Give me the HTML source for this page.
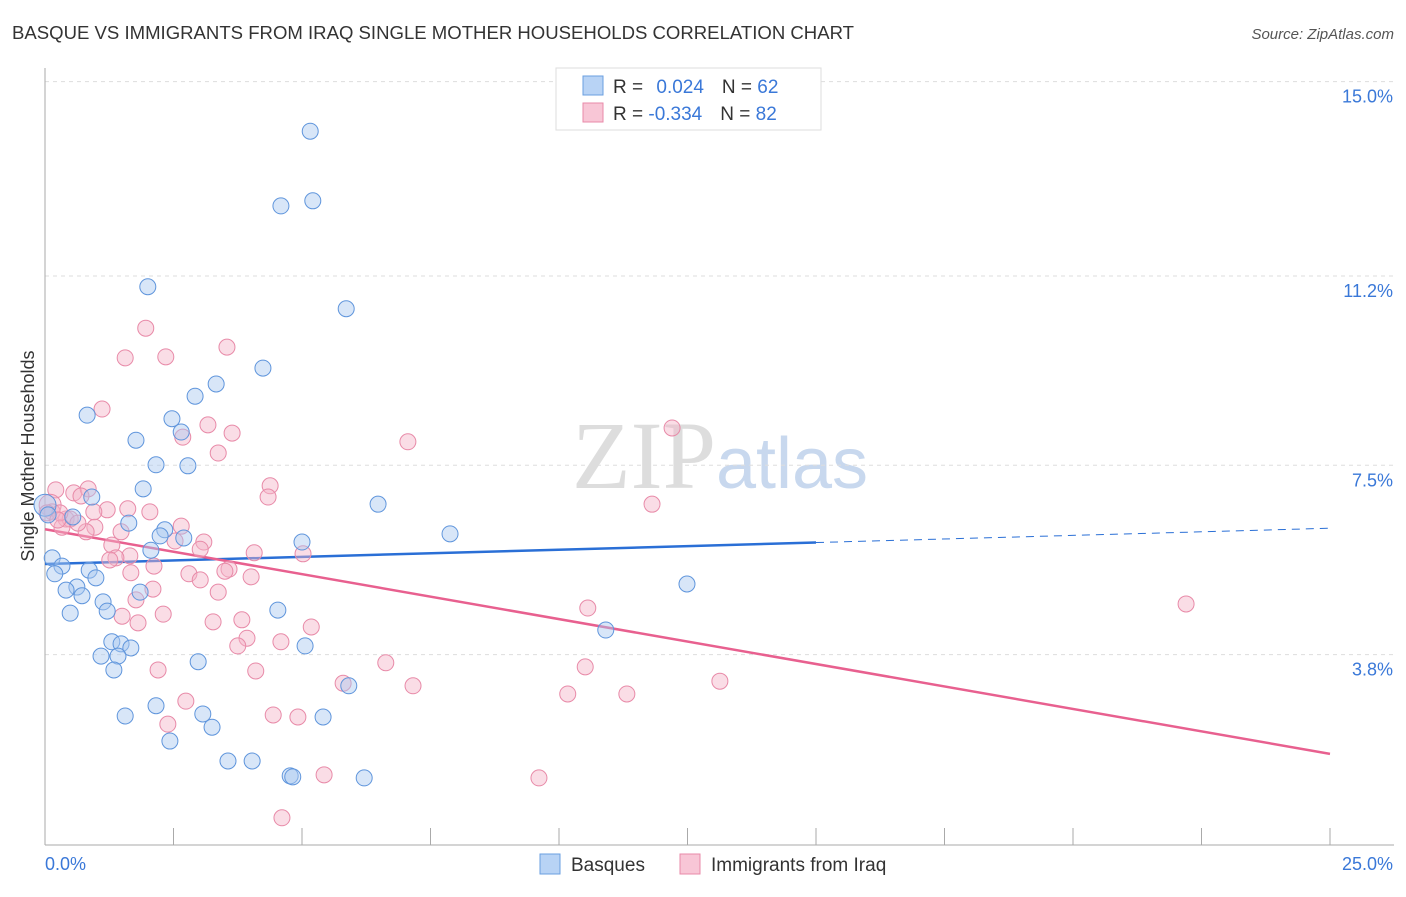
<!DOCTYPE html>
<html><head><meta charset="utf-8"><style>
body{margin:0;background:#fff;font-family:"Liberation Sans",sans-serif;}
</style></head><body>
<svg id="c" width="1406" height="892" xmlns="http://www.w3.org/2000/svg">
<text x="12" y="39" font-size="18" fill="#333" textLength="842" lengthAdjust="spacingAndGlyphs">BASQUE VS IMMIGRANTS FROM IRAQ SINGLE MOTHER HOUSEHOLDS CORRELATION CHART</text>
<text x="1394" y="39" font-size="15" fill="#555" font-style="italic" text-anchor="end">Source: ZipAtlas.com</text>
<text x="720" y="488" font-size="96" fill="#ddd" text-anchor="middle" font-family="Liberation Serif,serif">ZIP<tspan fill="#c8d8ee" font-family="Liberation Sans,sans-serif" font-size="72">atlas</tspan></text>
<text transform="translate(34,456) rotate(-90)" font-size="18" fill="#333" text-anchor="middle">Single Mother Households</text>
<g id="grid"></g><g id="axes"></g><g id="lines"></g><g id="pts"></g>
<g>
<rect x="556" y="68" width="265" height="62" fill="#fff" stroke="#ddd"/>
<rect x="583" y="76" width="20" height="19" fill="#b8d3f5" stroke="#6a9fe0"/>
<rect x="583" y="103" width="20" height="19" fill="#f8c6d6" stroke="#e88aa8"/>
<text x="613" y="93" font-size="19" fill="#333">R = <tspan fill="#3a78d8" dx="8">0.024</tspan><tspan dx="18" fill="#333">N = </tspan><tspan fill="#3a78d8">62</tspan></text>
<text x="613" y="120" font-size="19" fill="#333">R = <tspan fill="#3a78d8">-0.334</tspan><tspan dx="18" fill="#333">N = </tspan><tspan fill="#3a78d8">82</tspan></text>
</g>
<g>
<rect x="540" y="854" width="20" height="20" fill="#b8d3f5" stroke="#6a9fe0"/>
<text x="571" y="871" font-size="19" fill="#333">Basques</text>
<rect x="680" y="854" width="20" height="20" fill="#f8c6d6" stroke="#e88aa8"/>
<text x="711" y="871" font-size="19" fill="#333">Immigrants from Iraq</text>
</g>
</svg>
<script>
const blueX=[5.16,4.59,5.21,2.00,5.86,4.24,3.33,2.92,0.82,2.47,2.65,1.77,2.16,2.78,1.91,0.91,6.48,1.63,2.33,0.54,2.70,2.24,5.00,7.88,2.06,0.14,0.33,0.86,0.19,0.99,12.49,0.62,0.41,0.72,1.13,1.21,0.49,4.53,1.85,10.91,1.30,1.48,1.67,1.09,1.42,2.98,5.06,1.34,5.91,2.16,1.56,3.07,5.41,3.25,2.43,3.56,4.03,4.77,4.82,6.21,0.0,0.06];
const blueY=[14.03,12.57,12.67,10.99,10.56,9.40,9.09,8.85,8.48,8.41,8.15,7.99,7.51,7.49,7.04,6.88,6.74,6.37,6.24,6.49,6.08,6.12,6.00,6.16,5.84,5.69,5.53,5.45,5.38,5.30,5.18,5.12,5.06,4.95,4.83,4.65,4.61,4.67,5.02,4.28,4.05,4.01,3.93,3.77,3.77,3.66,3.97,3.50,3.19,2.80,2.60,2.64,2.58,2.38,2.11,1.72,1.72,1.43,1.41,1.39,6.72,6.53];
const pinkX=[1.96,2.35,1.56,3.54,1.11,3.17,3.64,2.68,7.06,12.20,3.37,4.38,0.21,4.34,0.56,0.84,0.70,11.81,2.04,1.21,1.61,0.95,0.41,0.49,2.65,0.97,1.48,0.33,0.80,3.09,1.30,2.53,1.65,3.02,4.07,5.02,1.38,2.12,3.58,3.50,4.01,2.80,2.10,3.37,1.77,10.56,22.20,2.30,1.50,1.81,3.27,3.83,5.18,3.93,4.59,3.75,6.63,10.51,2.20,4.10,5.80,7.16,13.13,2.74,10.17,11.32,2.39,4.44,4.92,5.43,9.61,4.61,0.10,0.14,0.04,0.29,0.64,0.25,1.26,1.67,3.02];
const pinkY=[10.18,9.62,9.60,9.81,8.60,8.29,8.13,8.05,7.96,8.23,7.74,7.10,7.02,6.88,6.96,7.04,6.90,6.74,6.59,6.63,6.65,6.59,6.45,6.45,6.31,6.29,6.20,6.29,6.20,6.00,5.94,6.02,5.73,5.86,5.79,5.77,5.69,5.53,5.47,5.43,5.32,5.38,5.08,5.02,4.87,4.71,4.79,4.59,4.55,4.42,4.44,4.48,4.34,4.12,4.05,3.97,3.64,3.56,3.50,3.48,3.24,3.19,3.28,2.89,3.03,3.03,2.44,2.62,2.58,1.45,1.39,0.61,6.72,6.59,6.57,6.57,6.37,6.43,5.65,5.40,5.26];
const yTicks=[3.8,7.5,11.2,15.0];
const yTickLabels=["3.8%","7.5%","11.2%","15.0%"];
const blueTrend=[5.57,6.27];
const pinkTrend=[6.25,1.86];
const NS="http://www.w3.org/2000/svg";
const sx=v=>45+v/25*1285, sy=v=>849-v*51.16;
function mk(t,a,p){const e=document.createElementNS(NS,t);for(const k in a)e.setAttribute(k,a[k]);p.appendChild(e);return e;}
const grid=document.getElementById('grid'),axes=document.getElementById('axes'),lines=document.getElementById('lines'),pts=document.getElementById('pts');
yTicks.forEach((t,i)=>{
 const l=mk('line',{x1:45,x2:1394,y1:sy(t),y2:sy(t),stroke:'#ddd','stroke-dasharray':'4,4'},grid);
 
 
 const tx=mk('text',{x:1393,y:sy(t)+21,'font-size':18,fill:'#3a78d8','text-anchor':'end'},axes);
 tx.textContent=yTickLabels[i];
 
 
});
mk('line',{x1:45,x2:45,y1:68,y2:845,stroke:'#aaa'},axes);
mk('line',{x1:45,x2:1394,y1:845,y2:845,stroke:'#aaa'},axes);
for(let i=0;i<=10;i++){const l=mk('line',{x1:sx(i*2.5),x2:sx(i*2.5),y1:828,y2:845,stroke:'#aaa'},axes);
 
 }
const x0=mk('text',{x:45,y:870,'font-size':18,fill:'#3a78d8'},axes);x0.textContent='0.0%';


const x1=mk('text',{x:1393,y:870,'font-size':18,fill:'#3a78d8','text-anchor':'end'},axes);x1.textContent='25.0%';


function drawPts(X,Y,fill,stroke,name){X.forEach((x,i)=>{const big=(x<0.15&&Y[i]>6.6);
 const c=mk('circle',{cx:sx(x),cy:sy(Y[i]),r:big?11:8,fill:fill,'fill-opacity':0.45,stroke:stroke,'stroke-width':1},pts);
 
 });}
drawPts(pinkX,pinkY,'#f5b3c8','#e88aa8','iraq-point');
drawPts(blueX,blueY,'#a9c7f0','#5f95dc','basque-point');
const bAt=x=>blueTrend[0]+(blueTrend[1]-blueTrend[0])*x/25;
const bl=mk('line',{x1:sx(0),y1:sy(bAt(0)),x2:sx(15),y2:sy(bAt(15)),stroke:'#2a6fd6','stroke-width':2.5},lines);


const bd=mk('line',{x1:sx(15),y1:sy(bAt(15)),x2:sx(25),y2:sy(bAt(25)),stroke:'#2a6fd6','stroke-width':1,'stroke-dasharray':'8,6'},lines);


const pl=mk('line',{x1:sx(0),y1:sy(pinkTrend[0]),x2:sx(25),y2:sy(pinkTrend[1]),stroke:'#e8608f','stroke-width':2.5},lines);


</script>
</body></html>
